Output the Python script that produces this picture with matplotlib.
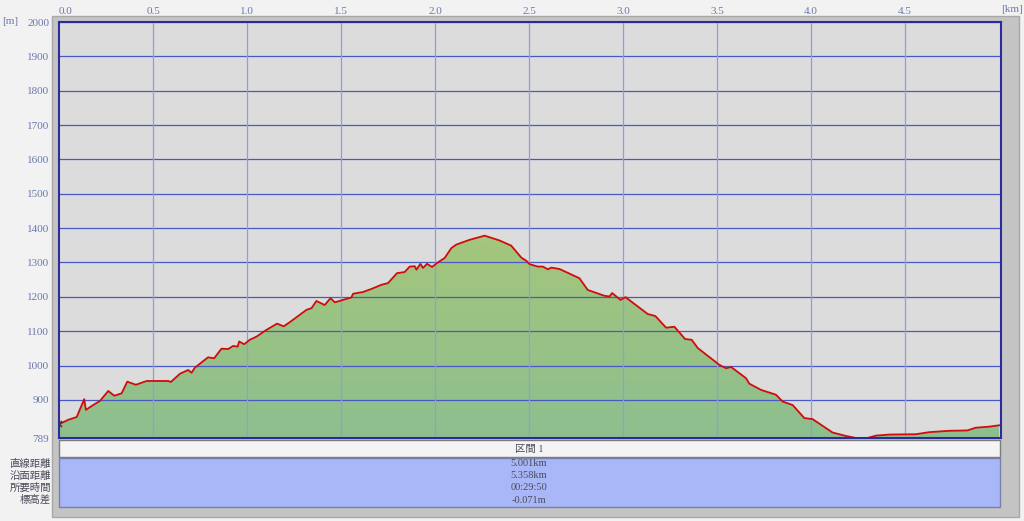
import numpy as np
import matplotlib
matplotlib.use("Agg")
import matplotlib.pyplot as plt
from matplotlib.patches import Rectangle, PathPatch
from matplotlib.colors import LinearSegmentedColormap

plt.rcParams['font.family'] = ['Liberation Serif', 'Noto Sans CJK JP', 'DejaVu Sans']

# elevation profile (distance km, elevation m)
DIST_KM = [0.000, 0.049, 0.094, 0.134, 0.143, 0.182, 0.218, 0.262, 0.294, 0.333,
           0.363, 0.409, 0.466, 0.581, 0.595, 0.643, 0.687, 0.705, 0.723, 0.793,
           0.825, 0.864, 0.900, 0.926, 0.950, 0.958, 0.985, 1.015, 1.050, 1.104,
           1.160, 1.195, 1.227,
           1.316, 1.343, 1.369, 1.413, 1.444, 1.467, 1.529, 1.555, 1.564, 1.617,
           1.662, 1.715, 1.750, 1.798, 1.838, 1.865, 1.892, 1.901, 1.922, 1.936,
           1.957, 1.984, 2.012, 2.051, 2.087, 2.113, 2.184, 2.264, 2.343, 2.405,
           2.459, 2.485, 2.503,
           2.547, 2.573, 2.600, 2.618, 2.662, 2.768, 2.812, 2.901, 2.928, 2.942,
           2.986, 3.013, 3.131, 3.172, 3.229, 3.273, 3.330, 3.365, 3.397, 3.512,
           3.548, 3.574, 3.654,
           3.672, 3.734, 3.813, 3.849, 3.902, 3.964, 4.008, 4.114, 4.185, 4.239,
           4.300, 4.345, 4.415, 4.557, 4.628, 4.681, 4.734, 4.831, 4.876, 4.947, 5.000]
ELEV_M = [829, 842, 850, 902, 871, 885, 897, 926, 912, 919,
          953, 944, 955, 955, 952, 976, 987, 979, 994, 1024,
          1021, 1049, 1048, 1057, 1055, 1070, 1062, 1075, 1084, 1104,
          1122, 1114, 1126,
          1162, 1167, 1188, 1176, 1196, 1184, 1194, 1198, 1209, 1214,
          1223, 1235, 1240, 1269, 1272, 1288, 1289, 1279, 1296, 1284,
          1296, 1287, 1299, 1313, 1342, 1352, 1366, 1378, 1364, 1349,
          1314, 1305, 1295,
          1288, 1288, 1280, 1285, 1281, 1254, 1220, 1203, 1201, 1211,
          1191, 1199, 1150, 1144, 1110, 1113, 1077, 1075, 1051, 1002,
          992, 996, 963,
          947, 929, 915, 895, 885, 847, 844, 805, 795, 789,
          789, 796, 799, 800, 806, 808, 810, 811, 819, 822, 826]

X_TICKS = [0.0, 0.5, 1.0, 1.5, 2.0, 2.5, 3.0, 3.5, 4.0, 4.5]
Y_TICKS = [789, 900, 1000, 1100, 1200, 1300, 1400, 1500, 1600, 1700, 1800, 1900, 2000]
SECTION = "区間 1"
ROW_LABELS = ["直線距離", "沿面距離", "所要時間", "標高差"]
ROW_VALUES = ["5.001km", "5.358km", "00:29:50", "-0.071m"]

W, H = 1024, 521
TICK_C = "#6a78ac"
TEXT_C = "#4a4a5a"


def box(x0, y0, x1, y1):
    # pixel box (top-left origin) -> figure fraction rect
    return [x0 / W, 1 - y1 / H, (x1 - x0) / W, (y1 - y0) / H]


def rect(x0, y0, x1, y1, fc, ec="none", lw=0, z=-2):
    l, b, w, h = box(x0, y0, x1, y1)
    fig.patches.append(Rectangle((l, b), w, h, transform=fig.transFigure,
                                 facecolor=fc, edgecolor=ec, linewidth=lw, zorder=z))


fig = plt.figure(figsize=(W / 100, H / 100), dpi=100, facecolor="#f2f2f2")

# grey panel behind plot + table
rect(52, 16, 1019, 517, "#c4c4c4", ec="#a8a8a8", lw=1, z=-3)
# table: header row and blue value rows
rect(59, 440, 1000, 457, "#f4f4f4", ec="#7c7c7c", lw=1)
rect(59, 458, 1000, 507, "#a8b7f7", ec="#7c80a8", lw=1)

ax = fig.add_axes(box(59, 22, 1001, 438))
ax.set_zorder(1)
ax.set_facecolor("#dcdcdc")

# green gradient fill, clipped to the profile
poly = ax.fill_between(DIST_KM, ELEV_M, 789, facecolor="none", edgecolor="none", zorder=2)
clip = PathPatch(poly.get_paths()[0], transform=ax.transData,
                 facecolor="none", edgecolor="none")
ax.add_patch(clip)
cmap = LinearSegmentedColormap.from_list("g", ["#8dbf8f", "#a4c67c"])
grad = np.linspace(0, 1, 256).reshape(-1, 1)
im = ax.imshow(grad, extent=[0, 5.01, 789, max(ELEV_M)], origin="lower",
               aspect="auto", cmap=cmap, zorder=2)
im.set_clip_path(clip)
ax.set_xlim(0, 5.01)
ax.set_ylim(789, 2000)
ax.plot(DIST_KM, ELEV_M, color="#d00c0c", lw=1.3, zorder=4)
ax.plot(DIST_KM[0], ELEV_M[0], marker="x", ms=4, mew=1.2, color="#503030", zorder=5)

# grid
for y in Y_TICKS[1:]:
    ax.axhline(y, color="#4a58c4", lw=0.9, zorder=3)
for x in X_TICKS[1:]:
    ax.axvline(x, color="#8e9ce8", lw=0.9, zorder=3)

for s in ax.spines.values():
    s.set_color("#2a2c9c")
    s.set_linewidth(1.5)
    s.set_zorder(6)

ax.xaxis.tick_top()
ax.set_xticks(X_TICKS)
ax.set_xticklabels([f"{v:.1f}" for v in X_TICKS])
ax.set_yticks(Y_TICKS)
ax.set_yticklabels([str(v) for v in Y_TICKS])
ax.tick_params(axis="x", length=0, pad=4.5, labelsize=8, labelcolor=TICK_C)
ax.tick_params(axis="y", length=0, pad=7, labelsize=8, labelcolor=TICK_C)
ax.get_xticklabels()[0].set_ha("left")

fig.text(1012 / W, 1 - 10 / H, "[km]", ha="center", va="center", fontsize=8, color=TICK_C)
fig.text(10 / W, 1 - 22 / H, "[m]", ha="center", va="center", fontsize=8, color=TICK_C)

# table text
fig.text(529 / W, 1 - 449 / H, SECTION, ha="center", va="center", fontsize=7.5, color=TEXT_C)
for i, (lab, val) in enumerate(zip(ROW_LABELS, ROW_VALUES)):
    yy = 1 - (463.5 + 12.2 * i) / H
    fig.text(51 / W, yy, lab, ha="right", va="center", fontsize=7.5, color=TEXT_C)
    fig.text(529 / W, yy, val, ha="center", va="center", fontsize=7.5, color=TEXT_C)

fig.savefig("out.png", dpi=100, facecolor=fig.get_facecolor())
